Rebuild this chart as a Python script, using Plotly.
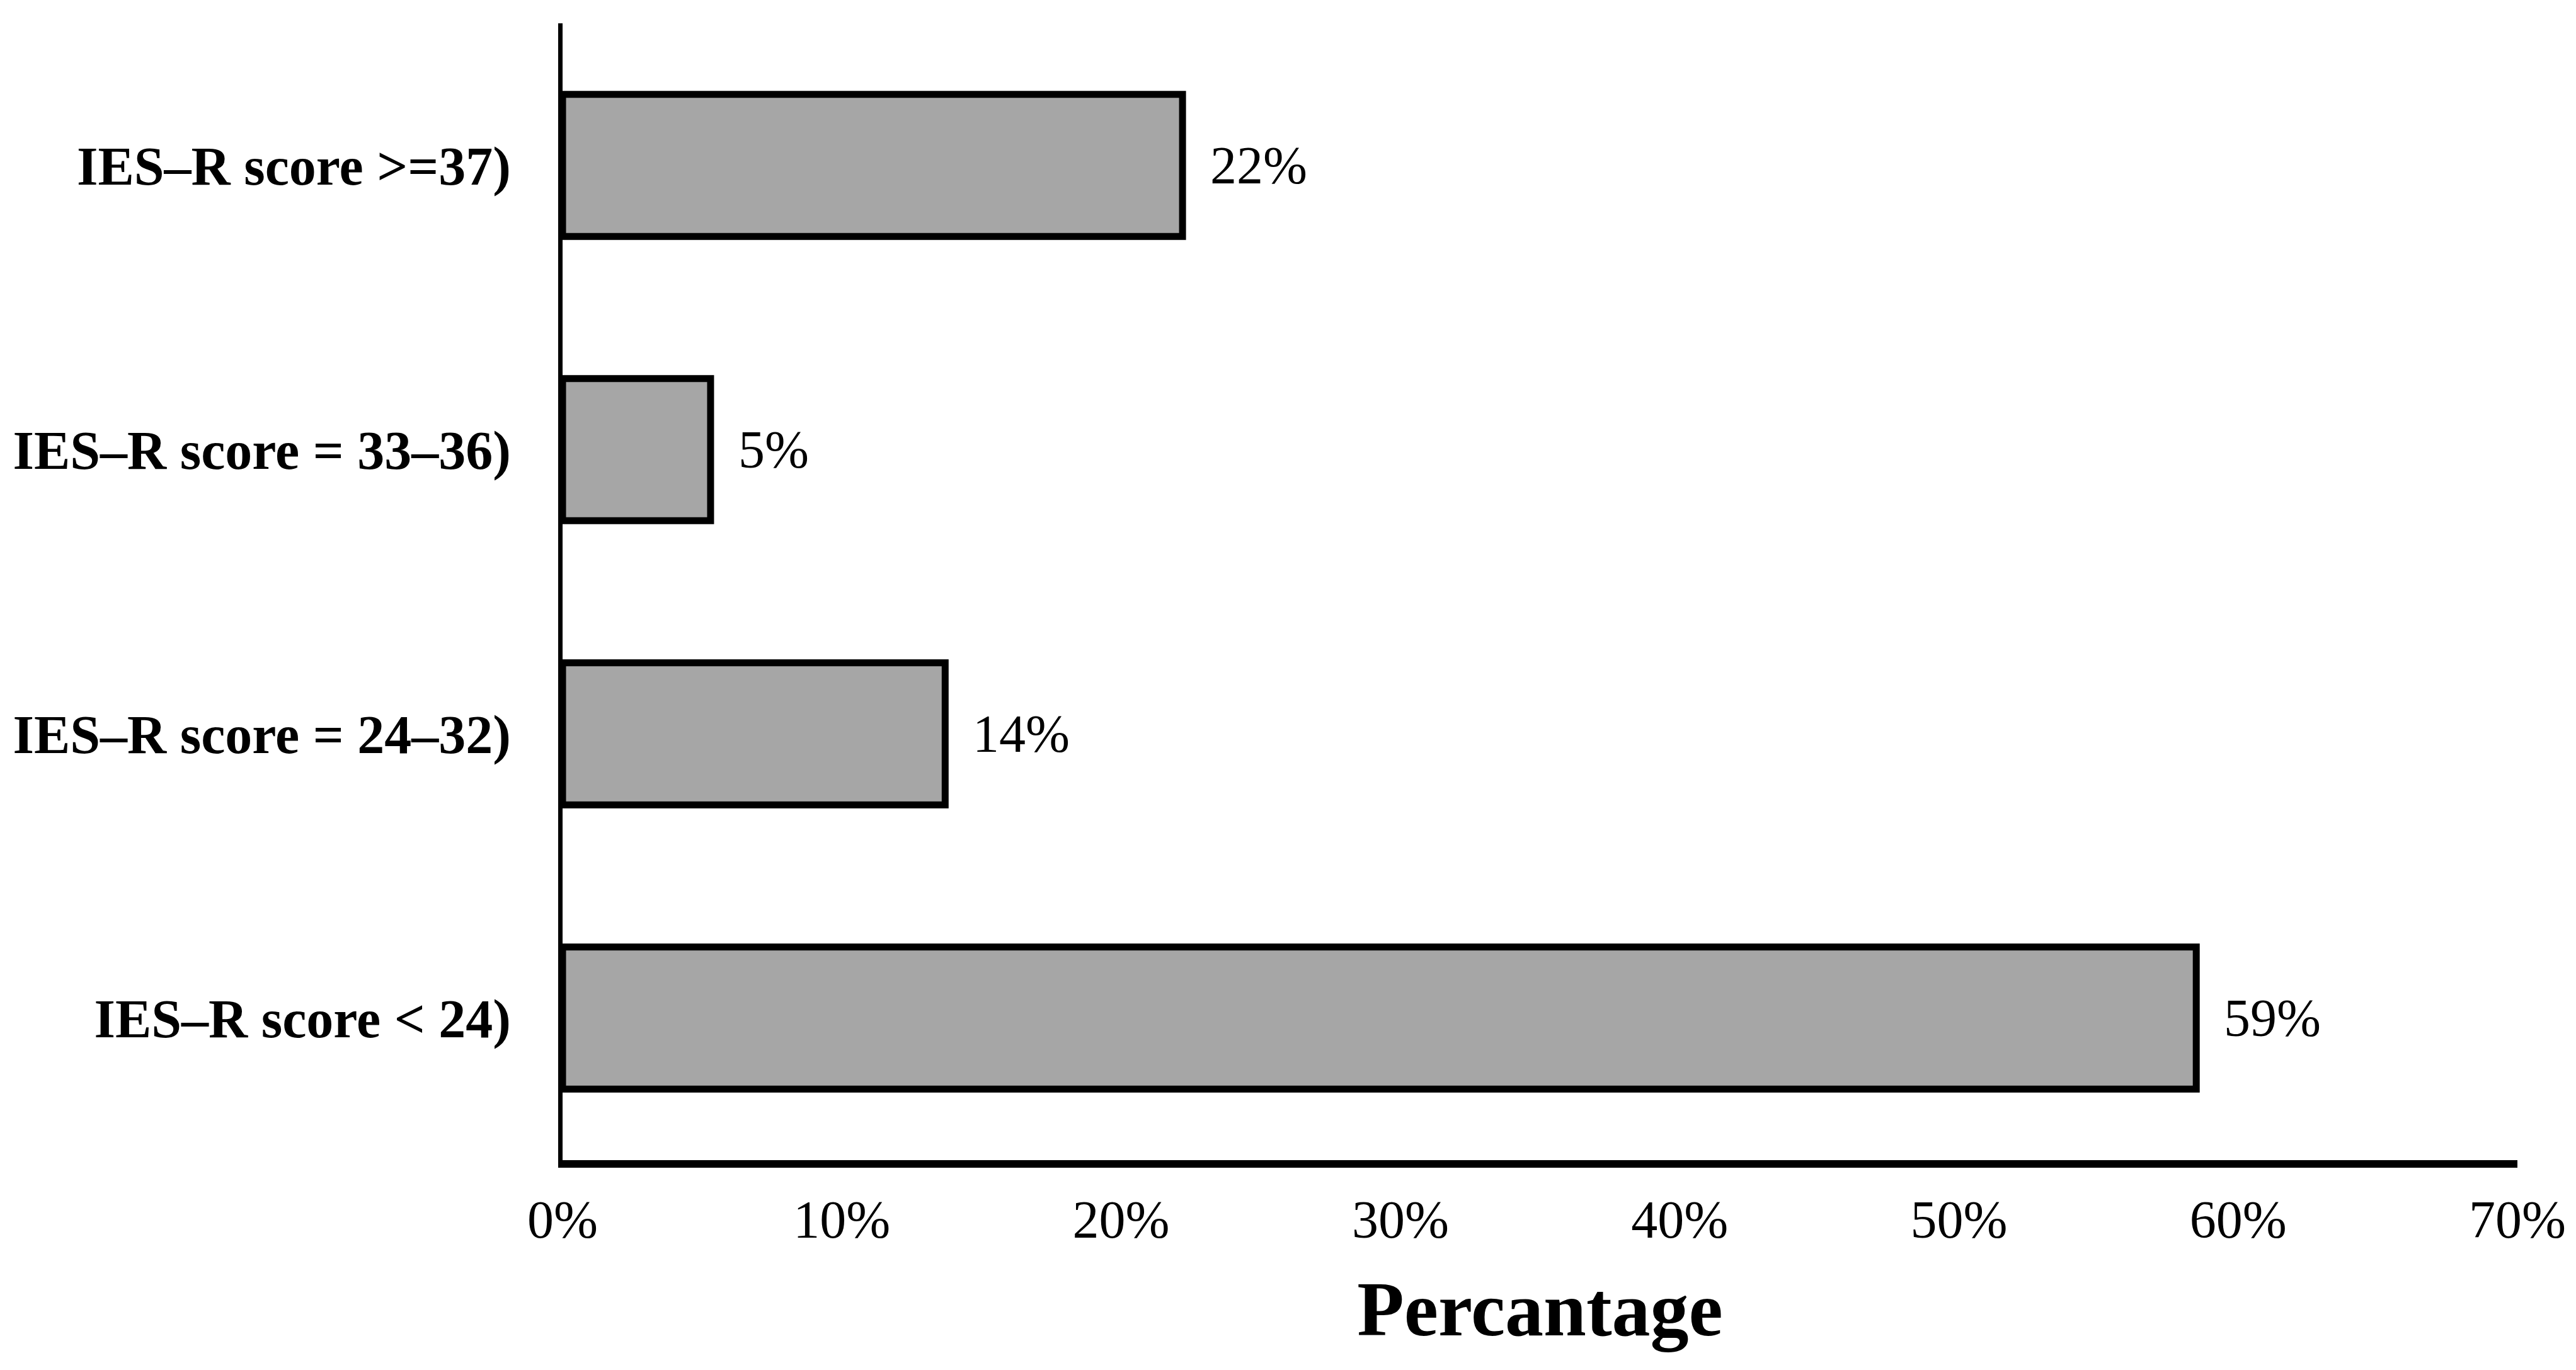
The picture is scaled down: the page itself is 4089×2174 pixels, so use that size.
import plotly.graph_objects as go

categories = ["IES–R score < 24)", "IES–R score = 24–32)", "IES–R score = 33–36)", "IES–R score >=37)"]
values = [58.5, 13.7, 5.3, 22.2]
value_labels = ["59%", "14%", "5%", "22%"]
x_tick_vals = [0, 10, 20, 30, 40, 50, 60, 70]
x_tick_text = ["0%", "10%", "20%", "30%", "40%", "50%", "60%", "70%"]

FONT = "Liberation Serif, Times New Roman, serif"

fig = go.Figure()
fig.add_trace(go.Bar(
    x=values, y=categories, orientation="h",
    marker=dict(color="#a6a6a6", line=dict(color="black", width=11)),
    width=0.5,
    hoverinfo="skip",
))

for v, c, t in zip(values, categories, value_labels):
    fig.add_annotation(x=v, y=c, text=t, showarrow=False, xanchor="left",
                       yanchor="middle", xshift=42,
                       font=dict(family=FONT, size=84, color="black"))

fig.update_layout(
    width=4089, height=2174,
    margin=dict(l=880, r=101, t=29, b=341),
    plot_bgcolor="white", paper_bgcolor="white",
    showlegend=False,
    font=dict(family=FONT, color="black"),
)
fig.update_xaxes(
    range=[0, 70], tickvals=x_tick_vals, ticktext=x_tick_text,
    showgrid=False, zeroline=False,
    showline=True, linecolor="black", linewidth=12,
    ticks="", tickfont=dict(family=FONT, size=84, color="black"),
    ticklabelstandoff=10,
    title=dict(text="<b>Percantage</b>", font=dict(family=FONT, size=122, color="black"), standoff=58),
)
fig.update_yaxes(
    range=[-0.5, 3.5], categoryorder="array", categoryarray=categories,
    showgrid=False, zeroline=False,
    showline=True, linecolor="black", linewidth=7,
    ticks="", tickfont=dict(family=FONT, size=86, color="black", weight="bold"),
    ticklabelstandoff=58,
)

fig.write_html("out.html")
